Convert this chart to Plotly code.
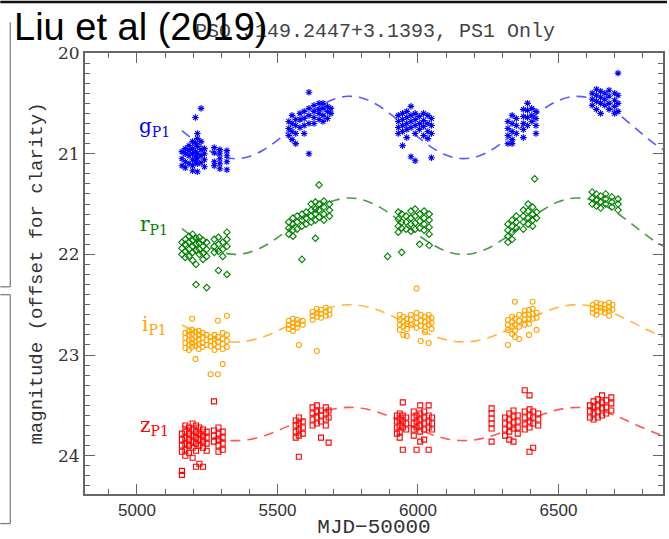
import plotly.graph_objects as go

# ---------------- data ----------------
# observations: list of (MJD-50000, [magnitudes]) columns
g_obs = [
    (5160, [20.98, 21.05, 21.12]), (5172, [20.95, 21.0, 21.08, 21.14]),
    (5185, [20.92, 20.97, 21.02, 21.1]), (5198, [20.88, 20.95, 21.0, 21.06, 21.12, 21.17]),
    (5208, [20.64, 20.9, 20.98, 21.03, 21.08]), (5215, [20.8, 20.85, 20.93, 21.0, 21.05, 21.1, 21.18]),
    (5228, [20.55, 20.88, 20.96, 21.02, 21.09]), (5240, [20.95, 21.0, 21.06, 21.13]),
    (5275, [20.94, 20.99, 21.08, 21.12]), (5295, [20.96, 21.0, 21.05, 21.1, 21.15]),
    (5320, [20.97, 21.02, 21.08, 21.16]),
    (5540, [20.68, 20.75, 20.82]), (5552, [20.62, 20.7, 20.78, 20.86]),
    (5565, [20.66, 20.72, 20.8, 20.9]), (5580, [20.6, 20.66, 20.74]),
    (5595, [20.58, 20.65, 20.72, 20.8]), (5612, [20.39, 20.55, 20.62, 20.7, 21.0]),
    (5630, [20.52, 20.58, 20.64, 20.7]), (5648, [20.5, 20.56, 20.6, 20.66]),
    (5662, [20.5, 20.55, 20.62, 20.68]), (5678, [20.53, 20.58, 20.65]), (5690, [20.55, 20.6]),
    (5930, [20.62, 20.68, 20.74, 20.8]), (5945, [20.6, 20.66, 20.72, 20.78, 20.92]),
    (5960, [20.58, 20.64, 20.7, 20.76, 20.84]), (5975, [20.53, 20.62, 20.68, 20.74, 21.03]),
    (5990, [20.6, 20.66, 20.72, 20.8, 21.07]), (6005, [20.63, 20.7, 20.76]),
    (6020, [20.6, 20.67, 20.73, 20.82]), (6035, [20.62, 20.7, 20.78, 20.85]),
    (6048, [20.65, 20.72, 20.8, 21.04]),
    (6320, [20.68, 20.75, 20.82, 20.9]), (6335, [20.62, 20.7, 20.78, 20.86, 20.9]),
    (6350, [20.65, 20.72, 20.8]), (6375, [20.56, 20.63, 20.7, 20.76, 20.84]),
    (6390, [20.5, 20.57, 20.64, 20.72]), (6405, [20.55, 20.62, 20.68]),
    (6420, [20.58, 20.65, 20.72, 20.8]),
    (6620, [20.4, 20.46, 20.52]), (6635, [20.36, 20.42, 20.48, 20.56]),
    (6650, [20.38, 20.44, 20.5, 20.6]), (6665, [20.4, 20.46, 20.52]),
    (6680, [20.37, 20.43, 20.5, 20.56]), (6700, [20.4, 20.47, 20.53, 20.6]),
    (6712, [20.2, 20.42, 20.5, 20.58]),
]
r_obs = [
    (5160, [21.88, 21.94, 22.0]), (5172, [21.85, 21.9, 21.97, 22.03]),
    (5185, [21.82, 21.88, 21.95, 22.02]), (5198, [21.8, 21.86, 21.92, 21.98, 22.06]),
    (5210, [21.84, 21.9, 21.96, 22.1, 22.3]), (5222, [21.83, 21.89, 21.95, 22.0]),
    (5235, [21.86, 21.92, 21.99, 22.05]), (5248, [21.88, 21.95, 22.02, 22.33]),
    (5275, [21.85, 21.92, 21.98]), (5290, [21.83, 21.9, 21.97, 22.16]),
    (5305, [21.88, 21.95, 22.02]), (5320, [21.78, 21.85, 21.92, 22.2]),
    (5540, [21.68, 21.74, 21.8]), (5555, [21.64, 21.7, 21.76, 21.82]),
    (5570, [21.62, 21.68, 21.75]), (5587, [21.6, 21.66, 21.72, 22.05]),
    (5602, [21.58, 21.64, 21.7]), (5620, [21.5, 21.56, 21.62, 21.68]),
    (5635, [21.48, 21.55, 21.6, 21.66, 21.84]), (5648, [21.31, 21.5, 21.56, 21.63]),
    (5665, [21.47, 21.53, 21.6, 21.66]), (5685, [21.5, 21.56, 21.62]),
    (5892, [22.02]),
    (5930, [21.58, 21.65, 21.72, 21.78]), (5942, [21.6, 21.68, 21.74, 21.98]),
    (5958, [21.62, 21.68, 21.75]), (5975, [21.57, 21.64, 21.7, 21.77]),
    (5990, [21.55, 21.62, 21.69, 21.75]), (6006, [21.6, 21.67, 21.74, 21.9]),
    (6022, [21.57, 21.64, 21.7, 21.76]), (6040, [21.6, 21.66, 21.73, 21.8, 21.91]),
    (6320, [21.7, 21.76, 21.82, 21.88]), (6335, [21.66, 21.72, 21.78, 21.85]),
    (6350, [21.62, 21.68, 21.74]), (6375, [21.56, 21.62, 21.68, 21.75]),
    (6392, [21.5, 21.57, 21.64, 21.7]), (6408, [21.53, 21.6, 21.66, 21.72]),
    (6415, [21.25]), (6422, [21.58, 21.64]),
    (6620, [21.38, 21.44, 21.5]), (6635, [21.4, 21.46, 21.52]),
    (6650, [21.42, 21.48, 21.54]), (6668, [21.4, 21.45, 21.5]),
    (6690, [21.43, 21.48, 21.53]), (6712, [21.45, 21.5, 21.56]),
]
i_obs = [
    (5172, [22.78, 22.83, 22.88, 22.93]), (5185, [22.76, 22.8, 22.85, 22.9, 22.95]),
    (5196, [22.64, 22.75, 22.79, 22.84, 22.88, 22.92]), (5208, [22.77, 22.82, 22.87, 22.91, 23.04]),
    (5220, [22.76, 22.8, 22.84, 22.89, 22.94]), (5233, [22.78, 22.83, 22.88, 22.92]),
    (5248, [22.8, 22.85, 22.9]), (5262, [22.82, 22.86, 22.91, 23.19]),
    (5276, [22.8, 22.84, 22.89, 22.95]), (5288, [22.66, 22.82, 22.87, 22.92, 23.19]),
    (5305, [22.78, 22.84, 22.89, 22.94, 23.09]), (5320, [22.61, 22.8, 22.86, 22.92]),
    (5540, [22.66, 22.7, 22.74]), (5555, [22.64, 22.68, 22.72, 22.76]),
    (5570, [22.65, 22.69, 22.73]), (5576, [22.9]), (5590, [22.66, 22.7]),
    (5625, [22.57, 22.61, 22.65]), (5640, [22.54, 22.58, 22.62, 22.96]),
    (5655, [22.55, 22.59, 22.63]), (5672, [22.53, 22.57, 22.61]), (5685, [22.55, 22.6]),
    (5935, [22.6, 22.65, 22.7, 22.75]), (5948, [22.62, 22.67, 22.72, 22.8]),
    (5960, [22.64, 22.69, 22.74, 22.81]), (5975, [22.6, 22.65, 22.7]),
    (5995, [22.34, 22.58, 22.63, 22.68, 22.73]), (6010, [22.6, 22.66, 22.71, 22.86]),
    (6025, [22.62, 22.67, 22.72, 22.77]), (6038, [22.6, 22.65, 22.7, 22.88]),
    (6048, [22.63, 22.68, 22.74]),
    (6320, [22.65, 22.7, 22.75, 22.9]), (6335, [22.62, 22.67, 22.72, 22.79]),
    (6345, [22.47, 22.64, 22.7, 22.76, 22.82]), (6360, [22.6, 22.66, 22.72, 22.84]),
    (6380, [22.56, 22.6, 22.65, 22.7]), (6395, [22.55, 22.6, 22.64, 22.69, 22.8]),
    (6408, [22.47, 22.54, 22.59, 22.64]), (6422, [22.58, 22.63, 22.75]),
    (6622, [22.5, 22.54, 22.58]), (6635, [22.48, 22.52, 22.56, 22.6]),
    (6650, [22.49, 22.53, 22.57]), (6665, [22.5, 22.54, 22.58]),
    (6680, [22.48, 22.52, 22.56, 22.61]), (6692, [22.5, 22.55]),
]
z_obs = [
    (5160, [23.78, 23.84, 23.9, 23.96, 24.15, 24.19]), (5172, [23.7, 23.76, 23.82, 23.88, 23.94, 24.0]),
    (5185, [23.72, 23.78, 23.84, 23.9, 23.97]), (5198, [23.68, 23.74, 23.8, 23.86, 23.92, 24.02]),
    (5210, [23.7, 23.76, 23.82, 23.88, 23.95, 24.11]), (5222, [23.72, 23.78, 23.84, 23.9, 24.08]),
    (5235, [23.74, 23.8, 23.86, 23.92, 24.11]), (5248, [23.76, 23.82, 23.88, 23.95]),
    (5274, [23.46, 23.75, 23.8, 23.86]), (5290, [23.72, 23.78, 23.84, 23.9, 23.96]),
    (5305, [23.76, 23.82, 23.88, 23.94]),
    (5565, [23.65, 23.7, 23.76, 23.82]), (5576, [23.62, 23.68, 23.74, 23.8, 24.01]),
    (5590, [23.66, 23.72, 23.78]), (5625, [23.52, 23.58, 23.64, 23.7]),
    (5640, [23.5, 23.56, 23.62, 23.68]), (5655, [23.55, 23.6, 23.66, 23.82]),
    (5672, [23.52, 23.58, 23.64, 23.7]), (5682, [23.55, 23.62, 23.87]),
    (5925, [23.6, 23.66, 23.72, 23.78]), (5935, [23.58, 23.64, 23.7, 23.76, 23.82]),
    (5946, [23.47, 23.6, 23.66, 23.72, 23.94]), (5958, [23.62, 23.68, 23.74]),
    (5985, [23.56, 23.62, 23.68, 23.74, 23.8]), (5995, [23.6, 23.66, 23.72, 23.94]),
    (6008, [23.5, 23.58, 23.64, 23.7, 23.76, 23.86]), (6022, [23.56, 23.62, 23.68, 23.74, 23.84]),
    (6038, [23.5, 23.6, 23.66, 23.72, 23.94]), (6050, [23.62, 23.68, 23.74]),
    (6262, [23.53, 23.58, 23.63, 23.68, 23.73, 23.86]),
    (6310, [23.62, 23.68, 23.74, 23.8]), (6325, [23.58, 23.64, 23.7, 23.76, 23.84]),
    (6340, [23.55, 23.61, 23.67, 23.73, 23.86]), (6355, [23.6, 23.66, 23.72, 23.78]),
    (6380, [23.35, 23.56, 23.62, 23.68, 23.74]), (6397, [23.4, 23.54, 23.6, 23.66, 23.72, 23.96]),
    (6410, [23.56, 23.62, 23.68, 23.92]), (6428, [23.58, 23.64, 23.7]),
    (6612, [23.5, 23.56, 23.62]), (6625, [23.46, 23.52, 23.58, 23.64]),
    (6640, [23.44, 23.5, 23.56, 23.62]), (6655, [23.4, 23.47, 23.53, 23.6]),
    (6670, [23.45, 23.52, 23.58]), (6688, [23.42, 23.48, 23.55]),
]

# dashed model curves
model_mjd = [5160, 5200, 5250, 5300, 5350, 5400, 5450, 5500, 5550, 5600, 5650, 5700,
             5750, 5800, 5850, 5900, 5950, 6000, 6050, 6100, 6150, 6200, 6250, 6300,
             6350, 6400, 6450, 6500, 6550, 6600, 6650, 6700, 6750, 6800, 6850, 6900]
g_model = [20.77, 20.86, 20.959, 21.026, 21.05, 21.028, 20.964, 20.866, 20.75, 20.632, 20.53, 20.46,
           20.43, 20.447, 20.507, 20.602, 20.716, 20.835, 20.94, 21.014, 21.048, 21.037, 20.982, 20.89,
           20.776, 20.657, 20.551, 20.472, 20.433, 20.44, 20.491, 20.579, 20.691, 20.81, 20.919, 21.001]
r_model = [21.745, 21.828, 21.918, 21.978, 22.0, 21.98, 21.922, 21.834, 21.729, 21.623, 21.531, 21.467,
           21.44, 21.455, 21.51, 21.595, 21.699, 21.806, 21.9, 21.968, 21.999, 21.988, 21.939, 21.856,
           21.753, 21.645, 21.549, 21.478, 21.443, 21.449, 21.495, 21.574, 21.675, 21.783, 21.882, 21.956]
i_model = [22.702, 22.756, 22.816, 22.855, 22.87, 22.857, 22.819, 22.76, 22.691, 22.621, 22.56, 22.518,
           22.5, 22.51, 22.546, 22.602, 22.671, 22.742, 22.804, 22.849, 22.869, 22.862, 22.829, 22.775,
           22.707, 22.636, 22.572, 22.525, 22.502, 22.506, 22.536, 22.589, 22.656, 22.727, 22.792, 22.841]
z_model = [23.7, 23.749, 23.801, 23.837, 23.85, 23.838, 23.804, 23.752, 23.69, 23.628, 23.573, 23.536,
           23.52, 23.529, 23.561, 23.611, 23.672, 23.736, 23.791, 23.831, 23.849, 23.843, 23.814, 23.765,
           23.704, 23.641, 23.584, 23.542, 23.522, 23.525, 23.552, 23.599, 23.659, 23.722, 23.78, 23.824]

band_names = ["g", "r", "i", "z"]
band_label_pos = [20.73, 21.71, 22.70, 23.70]
label_mjd = 5062
x_ticks = [5000, 5500, 6000, 6500]
y_ticks = [20, 21, 22, 23, 24]

# ---------------- styles ----------------
colors = {"g": "#0000ff", "r": "#008000", "i": "#ffa500", "z": "#ff0000"}
dash_colors = {"g": "rgba(60,60,255,0.85)", "r": "rgba(40,140,40,0.85)",
               "i": "rgba(255,175,40,0.9)", "z": "rgba(255,70,70,0.9)"}
symbols = {"g": "asterisk-open", "r": "diamond-open", "i": "circle-open", "z": "square-open"}
sizes = {"g": 5.5, "r": 5, "i": 5, "z": 5}

obs = {"g": g_obs, "r": r_obs, "i": i_obs, "z": z_obs}
models = {"g": g_model, "r": r_model, "i": i_model, "z": z_model}

fig = go.Figure()
for b in band_names:
    fig.add_trace(go.Scatter(x=model_mjd, y=models[b], mode="lines", line_shape="spline",
                             line=dict(color=dash_colors[b], width=1.6, dash="10px,7px"),
                             hoverinfo="skip", showlegend=False))
for b in band_names:
    xs, ys = [], []
    for t, mags in obs[b]:
        for m in mags:
            xs.append(t)
            ys.append(m)
    fig.add_trace(go.Scatter(x=xs, y=ys, mode="markers", showlegend=False,
                             marker=dict(symbol=symbols[b], size=sizes[b], color=colors[b],
                                         line=dict(color=colors[b], width=1.1))))

for b, yl in zip(band_names, band_label_pos):
    fig.add_annotation(x=label_mjd, y=yl, xref="x", yref="y", showarrow=False,
                       text=f"{b}<sub>P1</sub>", xanchor="center", yanchor="middle",
                       font=dict(family="DejaVu Serif", size=20, color=colors[b]))

L, R, T, B = 85, 4, 53, 39
W, H = 669, 539
pw, ph = W - L - R, H - T - B

def px(xp):
    return (xp - L) / pw

def py(yp):
    return (H - B - yp) / ph

# screenshot frame remnants at left edge and top
edge = dict(color="#777777", width=1.2)
shapes = [
    dict(type="line", xref="paper", yref="paper", x0=px(10), x1=px(10), y0=py(22), y1=py(290), line=edge),
    dict(type="line", xref="paper", yref="paper", x0=px(0), x1=px(10), y0=py(290), y1=py(290), line=edge),
    dict(type="line", xref="paper", yref="paper", x0=px(10), x1=px(10), y0=py(298), y1=py(530), line=edge),
    dict(type="line", xref="paper", yref="paper", x0=px(0), x1=px(10), y0=py(298), y1=py(298), line=edge),
    dict(type="line", xref="paper", yref="paper", x0=px(0), x1=px(10), y0=py(530), y1=py(530), line=edge),
    dict(type="rect", xref="paper", yref="paper", x0=px(0), x1=px(669), y0=py(0), y1=py(2.5),
         line=dict(width=0), fillcolor="#111111"),
]

fig.add_annotation(x=px(12), y=py(27), xref="paper", yref="paper", showarrow=False,
                   text="Liu et al (2019)", xanchor="left", yanchor="middle",
                   font=dict(family="Liberation Sans", size=38, color="black"))

axis_common = dict(showline=True, linecolor="#666666", linewidth=2, mirror="ticks",
                   ticks="inside", ticklen=10, tickwidth=1.3, tickcolor="#666666",
                   showgrid=False, zeroline=False)

fig.update_layout(
    width=W, height=H, margin=dict(l=L, r=R, t=T, b=B),
    paper_bgcolor="white", plot_bgcolor="white",
    title=dict(text="PSO J149.2447+3.1393, PS1 Only", x=375 / W, xanchor="center",
               y=1 - 30 / H, yanchor="middle",
               font=dict(family="Liberation Mono", size=20, color="#444444")),
    xaxis=dict(range=[4815, 6872], tickvals=x_ticks, ticktext=[str(v) for v in x_ticks],
               minor=dict(dtick=100, tick0=0, ticks="inside", ticklen=5, tickcolor="#666666"),
               tickfont=dict(family="Liberation Sans", size=17, color="#333333"),
               title=dict(text="MJD\u221250000", standoff=0,
                          font=dict(family="Liberation Mono", size=21, color="#333333")),
               **axis_common),
    yaxis=dict(range=[24.38, 20.0], tickvals=y_ticks, ticktext=[str(v) for v in y_ticks],
               minor=dict(dtick=0.1, tick0=0, ticks="inside", ticklen=5, tickcolor="#666666"),
               tickfont=dict(family="DejaVu Serif", size=17, color="#333333"),
               title=dict(text="magnitude (offset for clarity)", standoff=10,
                          font=dict(family="Liberation Mono", size=19, color="#333333")),
               **axis_common),
    shapes=shapes,
)

fig.write_html("out.html")
